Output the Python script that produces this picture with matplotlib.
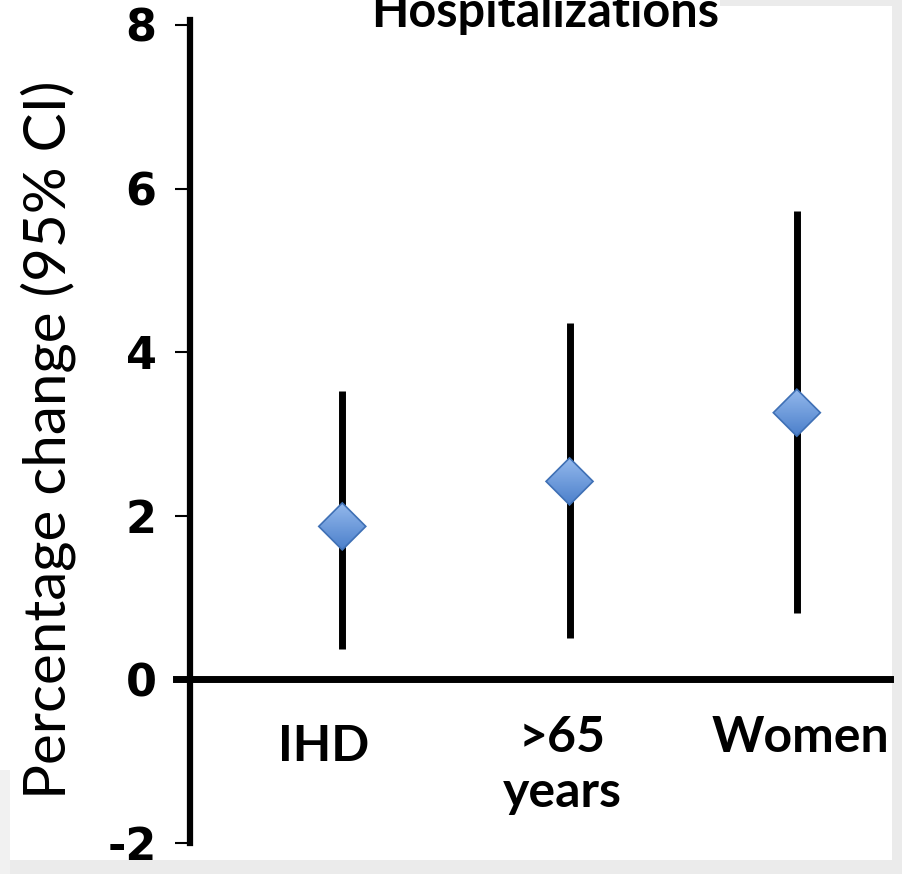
import matplotlib
matplotlib.use("Agg")
import numpy as np
from matplotlib import pyplot as plt
from matplotlib.patches import Rectangle, Polygon
from matplotlib.colors import LinearSegmentedColormap
from matplotlib.transforms import Affine2D, ScaledTranslation

# === Datos ===
categories = ["IHD", ">65\nyears", "Women"]
estimate = [1.87, 2.42, 3.26]
ci_low = [0.37, 0.51, 0.81]
ci_high = [3.52, 4.36, 5.72]
yticks = [-2, 0, 2, 4, 6, 8]

# === Tamaño en píxeles ===
W_PX, H_PX, DPI = 902, 874, 100
DIAMOND_HALF_PX = 23.5
LABEL_SHIFT_PX = [(-19, -82), (-7, -73), (4, -73)]   # (dx, dy) de la línea base
LINE_GAP_PX = 55
GRAY = "#ebebeb"


def fig_rect(x0, y0, w, h, color, z=-5):
    # rectángulo en píxeles medidos desde la esquina superior izquierda
    fig.patches.append(Rectangle((x0 / W_PX, 1 - (y0 + h) / H_PX), w / W_PX, h / H_PX,
                                 transform=fig.transFigure, facecolor=color,
                                 edgecolor="none", zorder=z))


fig = plt.figure(figsize=(W_PX / DPI, H_PX / DPI), dpi=DPI, facecolor="white")
# bordes grises de la diapositiva
fig_rect(0, 860, W_PX, 14, GRAY)
fig_rect(892, 0, 10, H_PX, GRAY)
fig_rect(720, 0, 182, 6, GRAY)
fig_rect(0, 770, 10, 104, "#f1f1f1")

ax = fig.add_axes([190 / W_PX, 31 / H_PX, 700 / W_PX, 823 / H_PX])
ax.patch.set_alpha(0.0)

xpos = [1, 2, 3]
for x, lo, hi in zip(xpos, ci_low, ci_high):
    ax.plot([x, x], [lo, hi], color="black", linewidth=5, solid_capstyle="butt", zorder=2)

ax.set_xlim(0.33, 3.41)
ax.set_ylim(-2, 8.06)

# rombos con degradado azul
blue_grad = LinearSegmentedColormap.from_list("blue_grad", ["#4c80cb", "#93b8ec"])
grad = np.linspace(0, 1, 64).reshape(-1, 1)
for x, y in zip(xpos, estimate):
    tr = Affine2D().scale(DIAMOND_HALF_PX) + ScaledTranslation(x, y, ax.transData)
    diamond = Polygon([[0, 1], [1, 0], [0, -1], [-1, 0]], closed=True, transform=tr,
                      facecolor="none", edgecolor="#3f70b5", linewidth=1.2, zorder=4)
    ax.add_patch(diamond)
    img = ax.imshow(grad, cmap=blue_grad, origin="lower", extent=[-1, 1, -1, 1],
                    transform=tr, aspect="auto", zorder=3, interpolation="bilinear")
    img.set_clip_path(diamond)
ax.set_xlim(0.33, 3.41)
ax.set_ylim(-2, 8.06)

# línea del cero
ax.plot([-0.02, 1.0], [0, 0], transform=ax.get_yaxis_transform(), color="black",
        linewidth=5, clip_on=False, zorder=2)

for side in ["top", "right", "bottom"]:
    ax.spines[side].set_visible(False)
ax.spines["left"].set_linewidth(4.5)
ax.spines["left"].set_bounds(-2, 8.06)

ax.set_yticks(yticks)
ax.set_yticklabels([str(v) for v in yticks], fontsize=32, fontweight="bold",
                   family="DejaVu Sans")
ax.tick_params(axis="y", length=11, width=1.5, pad=13)
ax.set_xticks([])

for x, lab, (dx, dy) in zip(xpos, categories, LABEL_SHIFT_PX):
    for i, line in enumerate(lab.split("\n")):
        ax.annotate(line, xy=(x, 0), xytext=(dx, dy - i * LINE_GAP_PX),
                    textcoords="offset pixels", ha="center", va="baseline",
                    fontsize=36, fontweight="bold", family="Lato")

ax.set_ylabel("Percentage change (95% CI)", fontsize=42, family="Lato",
              fontweight="normal")
ax.yaxis.set_label_coords(-0.163, 0.49)

fig.text(545 / W_PX, 1 - 27 / H_PX, "Hospitalizations", ha="center", va="baseline",
         fontsize=35, fontweight="bold", family="Lato")

fig.savefig("out.png", dpi=DPI, facecolor=fig.get_facecolor())
plt.close(fig)
